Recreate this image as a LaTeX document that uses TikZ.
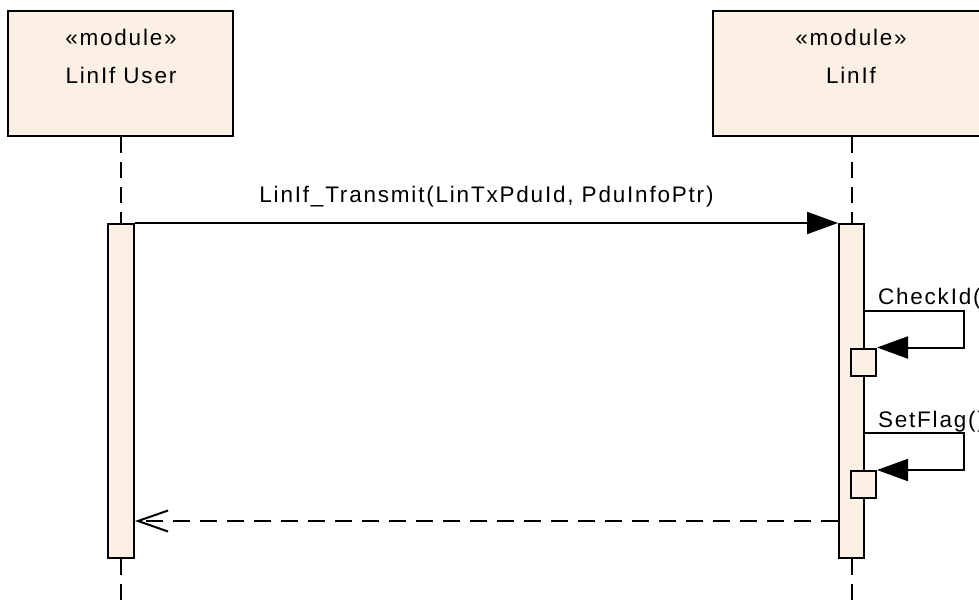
\documentclass[tikz,border=0pt]{standalone}
\usepackage{fontspec}
\newfontfamily\umlfont{Liberation Sans}[LetterSpace=8]
\usetikzlibrary{arrows.meta}
\definecolor{umlfill}{RGB}{251,240,227}
\tikzset{
  headbox/.style={draw, line width=2pt, fill=umlfill, minimum width=225pt, minimum height=125pt, inner sep=0pt},
  actbar/.style={draw, line width=2pt, fill=umlfill, minimum width=26pt, minimum height=334pt, inner sep=0pt},
  selfbox/.style={draw, line width=2pt, fill=umlfill, minimum width=25pt, minimum height=27pt, inner sep=0pt},
  txt/.style={font=\umlfont\fontsize{22.5}{26}\selectfont, inner sep=0pt, anchor=base},
  lifeline/.style={line width=2pt, dash pattern=on 16pt off 9pt},
  callmsg/.style={line width=2pt, -{Triangle[length=31pt,width=22pt]}},
  retmsg/.style={line width=2pt, dash pattern=on 17pt off 10pt, -{Straight Barb[length=30pt,width=21pt,line width=2pt]}}
}
\begin{document}
\begin{tikzpicture}[x=1pt,y=-1pt]
\useasboundingbox (0,0) rectangle (979,605);
\clip (0,0) rectangle (979,605);
% headers
\node[headbox] (uh) at (120.5,73.5) {};
\node[txt] (ut1) at (121,45) {«module»};
\node[txt] (ut2) at (121,83) {LinIf User};
\node[headbox, minimum width=276pt] (lh) at (851,73.5) {};
\node[txt] (lt1) at (851,45) {«module»};
\node[txt] (lt2) at (851,83) {LinIf};
% bottom ends of lifelines
\coordinate (ue) at (121,606);
\coordinate (le) at (851.5,606);
% activation bars
\node[actbar] (ub) at (121,391) {};
\node[actbar, minimum width=25pt] (lb) at (851.5,391) {};
% lifelines
\draw[lifeline] (uh.south -| ub.center) -- (ub.north);
\draw[lifeline] (ub.south) -- (ue);
\draw[lifeline] (lh.south -| lb.center) -- (lb.north);
\draw[lifeline] (lb.south) -- (le);
% self-call boxes
\node[selfbox] (c1) at (863.5,362) {};
\node[selfbox] (c2) at (863.5,484.5) {};
% call message
\draw[callmsg] (ub.north east) -- node[txt, yshift=21pt] (m1) {LinIf\_Transmit(LinTxPduId, PduInfoPtr)} (lb.north west);
% self calls
\coordinate (s1) at (0,311);
\coordinate (s2) at (0,433);
\draw[callmsg] (lb.east |- s1) node[txt, anchor=base west, xshift=12pt, yshift=7pt] (m2) {CheckId()} -| ([xshift=87pt]c1.north east) -- (c1.north east);
\draw[callmsg] (lb.east |- s2) node[txt, anchor=base west, xshift=12pt, yshift=6pt] (m3) {SetFlag()} -| ([xshift=87pt]c2.north east) -- (c2.north east);
% return
\coordinate (r) at (0,521);
\draw[retmsg] (lb.west |- r) -- (ub.east |- r);
\end{tikzpicture}
\end{document}
